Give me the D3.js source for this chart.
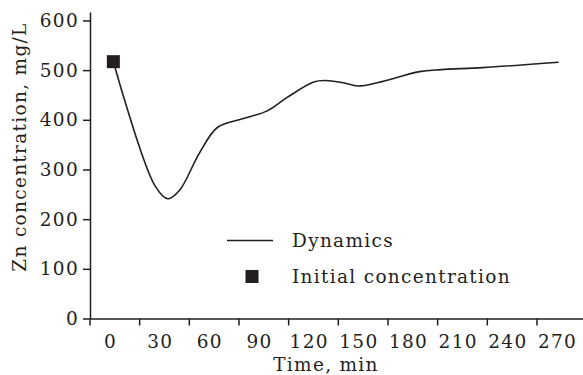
<!DOCTYPE html>
<html>
<head>
<meta charset="utf-8">
<script src="https://cdn.jsdelivr.net/npm/d3@7"></script>
<style>
  body { margin: 0; background: #fff; }
  text { font-family: "DejaVu Serif", serif; fill: #231f20; }
</style>
</head>
<body>
<div id="container"></div>
<script>
/**
 * CONSTANTS AND GLOBALS
 * */
const width = 583,
  height = 375;

// dynamics curve (time in min, Zn in mg/L)
const times = [2, 27, 35, 42, 54, 65, 80, 95, 107, 123, 130, 140, 150, 162, 187, 200, 225, 271];
const zinc = [517, 268, 241, 258, 333, 385, 402, 418, 445, 476, 479, 475, 468, 475, 497, 501, 505, 516];

// initial concentration point
const initialTime = [2];
const initialZn = [517];

const xTicks = [0, 30, 60, 90, 120, 150, 180, 210, 240, 270];
const yTicks = [0, 100, 200, 300, 400, 500, 600];

const legendLabels = ["Dynamics", "Initial concentration"];

const fontSize = 18.5,
  spacing = 1.3;

const svg = d3.select("#container")
  .append("svg")
  .attr("width", width)
  .attr("height", height);

const x = d3.scaleLinear()
  .domain([-12.1, 285.7])
  .range([90, 583]);

const y = d3.scaleLinear()
  .domain([0, 617])
  .range([318.5, 12]);

// y axis
svg.append("g")
  .attr("transform", `translate(${x(-12.1)},0)`)
  .call(d3.axisLeft(y).tickValues(yTicks).tickSize(7).tickSizeOuter(0).tickPadding(4));

// x axis: labels sit between the tick marks, like the original
const xAxis = svg.append("g")
  .attr("transform", `translate(0,${y(0)})`)
  .call(d3.axisBottom(x).tickValues(xTicks).tickSize(0).tickSizeOuter(0).tickPadding(16));

xAxis.selectAll(".tick-mark")
  .data(xTicks)
  .join("line")
  .attr("class", "tick-mark")
  .attr("x1", d => x(d - 12.1))
  .attr("x2", d => x(d - 12.1))
  .attr("y1", 0)
  .attr("y2", 7)
  .attr("stroke", "#231f20")
  .attr("stroke-width", 1.5);

svg.selectAll(".domain, .tick line")
  .attr("stroke", "#231f20")
  .attr("stroke-width", 1.5);

svg.selectAll(".tick text")
  .attr("font-size", fontSize)
  .attr("letter-spacing", spacing)
  .attr("fill", "#231f20");

// axis titles
svg.append("text")
  .attr("x", 326)
  .attr("y", 371)
  .attr("text-anchor", "middle")
  .attr("font-size", fontSize)
  .attr("letter-spacing", spacing)
  .text("Time, min");

svg.append("text")
  .attr("transform", "translate(26,147) rotate(-90)")
  .attr("text-anchor", "middle")
  .attr("font-size", fontSize)
  .attr("letter-spacing", spacing)
  .text("Zn concentration, mg/L");

// dynamics line
const lineGen = d3.line()
  .x(d => x(d[0]))
  .y(d => y(d[1]))
  .curve(d3.curveCatmullRom.alpha(0.5));

svg.append("path")
  .datum(d3.zip(times, zinc))
  .attr("fill", "none")
  .attr("stroke", "#231f20")
  .attr("stroke-width", 1.6)
  .attr("d", lineGen);

// initial concentration marker
svg.selectAll("rect.initial")
  .data(d3.zip(initialTime, initialZn))
  .join("rect")
  .attr("class", "initial")
  .attr("x", d => x(d[0]) - 6.5)
  .attr("y", d => y(d[1]) - 6.5)
  .attr("width", 13)
  .attr("height", 13)
  .attr("fill", "#231f20");

// legend
const legend = svg.append("g");
legend.append("line")
  .attr("x1", 227).attr("x2", 273)
  .attr("y1", 240.5).attr("y2", 240.5)
  .attr("stroke", "#231f20")
  .attr("stroke-width", 1.6);
legend.append("rect")
  .attr("x", 245.5).attr("y", 270)
  .attr("width", 13).attr("height", 13)
  .attr("fill", "#231f20");
legend.selectAll("text")
  .data(legendLabels)
  .join("text")
  .attr("x", 292)
  .attr("y", (d, i) => 247 + i * 36)
  .attr("font-size", fontSize)
  .attr("letter-spacing", spacing)
  .text(d => d);
</script>
</body>
</html>
